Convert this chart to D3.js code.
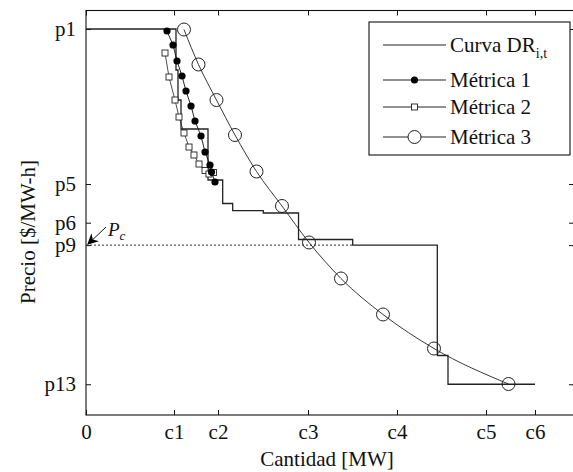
<!DOCTYPE html>
<html><head><meta charset="utf-8">
<script src="https://cdn.jsdelivr.net/npm/d3@7"></script>
<style>
html,body{margin:0;padding:0;background:#fff;}
svg{display:block;}
text{font-family:"Liberation Serif","Times New Roman",serif;fill:#111;}
</style></head><body>
<svg id="chart" width="573" height="472"></svg>
<script>
// ---- data ----
const xTickValues = [0, 18.03, 27.05, 45.49, 63.73, 81.97, 92.01];
const xTickLabels = ["0", "c1", "c2", "c3", "c4", "c5", "c6"];
const yTickValues = [95.43, 57.11, 47.54, 42.0, 7.6];
const yTickLabels = ["p1", "p5", "p6", "p9", "p13"];

// Curva DR (step, value holds until next quantity)
const drQty   = [0, 18.44, 18.85, 19.47, 25.0, 28.01, 30.06, 36.33, 43.55, 54.65, 71.99, 74.18, 92.01];
const drPrice = [95.43, 85.29, 77.87, 70.70, 58.10, 52.29, 50.51, 49.94, 43.39, 42.0, 14.71, 7.6, 7.6];

const m1Qty   = [16.60, 17.83, 18.65, 19.67, 20.49, 21.52, 22.34, 23.57, 24.39, 25.41, 25.72, 26.43];
const m1Price = [94.93, 91.47, 87.52, 83.81, 80.10, 76.39, 72.68, 68.97, 65.02, 61.80, 60.07, 57.60];

const m2Qty   = [16.19, 17.01, 18.24, 19.06, 20.08, 21.11, 22.13, 23.16, 24.39, 25.20, 26.13];
const m2Price = [89.49, 83.56, 77.87, 73.67, 69.72, 66.25, 64.28, 62.05, 60.44, 59.58, 59.95];

const m3Qty   = [20.08, 23.05, 26.74, 30.53, 34.94, 40.16, 45.70, 52.25, 60.86, 71.31, 86.58];
const m3Price = [95.30, 86.65, 77.87, 69.22, 60.20, 51.67, 42.65, 33.75, 24.85, 16.44, 7.66];

const pcPrice = 42.0;      // clearing price (p9)
const pcQtyEnd = 54.65;    // dashed line end

const legendLabels = ["Curva DR", "Métrica 1", "Métrica 2", "Métrica 3"];

// ---- layout ----
const svg = d3.select("#chart");
const L = 86, R = 574, T = 10.5, B = 415;
const x = d3.scaleLinear().domain([0, 100]).range([L, R]);
const y = d3.scaleLinear().domain([0, 100]).range([B, T]);

// frame
svg.append("rect").attr("x", L).attr("y", T).attr("width", R - L).attr("height", B - T)
  .attr("fill", "none").attr("stroke", "#111").attr("stroke-width", 1.1);

// axes (inward ticks)
const fmtX = (d, i) => xTickLabels[i];
const fmtY = (d, i) => yTickLabels[i];
const gx = svg.append("g").attr("transform", `translate(0,${B})`)
  .call(d3.axisBottom(x).tickValues(xTickValues).tickFormat(fmtX).tickSizeInner(-5).tickSizeOuter(0).tickPadding(9));
const gxt = svg.append("g").attr("transform", `translate(0,${T})`)
  .call(d3.axisTop(x).tickValues(xTickValues).tickFormat("").tickSizeInner(-5).tickSizeOuter(0));
const gy = svg.append("g").attr("transform", `translate(${L},0)`)
  .call(d3.axisLeft(y).tickValues(yTickValues).tickFormat(fmtY).tickSizeInner(-5).tickSizeOuter(0).tickPadding(10));
const gyr = svg.append("g").attr("transform", `translate(${R},0)`)
  .call(d3.axisRight(y).tickValues(yTickValues).tickFormat("").tickSizeInner(-5).tickSizeOuter(0));
[gx, gxt, gy, gyr].forEach(g => {
  g.select(".domain").remove();
  g.selectAll(".tick line").attr("stroke", "#111");
  g.selectAll("text").attr("font-family", "Liberation Serif").attr("font-size", 21).attr("fill", "#111");
});

// axis titles
svg.append("text").attr("x", 327).attr("y", 466).attr("text-anchor", "middle")
  .attr("font-size", 21).text("Cantidad [MW]");
svg.append("text").attr("transform", "translate(35,232) rotate(-90)").attr("text-anchor", "middle")
  .attr("font-size", 21).text("Precio [$/MW-h]");

// dashed clearing price line
svg.append("line").attr("x1", x(0)).attr("x2", x(pcQtyEnd)).attr("y1", y(pcPrice)).attr("y2", y(pcPrice))
  .attr("stroke", "#333").attr("stroke-width", 1).attr("stroke-dasharray", "2,2");

// DR step curve
const dr = drQty.map((q, i) => [q, drPrice[i]]);
svg.append("path").datum(dr)
  .attr("d", d3.line().x(d => x(d[0])).y(d => y(d[1])).curve(d3.curveStepAfter))
  .attr("fill", "none").attr("stroke", "#222").attr("stroke-width", 1.3);

// Metric 3
const m3 = m3Qty.map((q, i) => [q, m3Price[i]]);
svg.append("path").datum(m3)
  .attr("d", d3.line().x(d => x(d[0])).y(d => y(d[1])).curve(d3.curveMonotoneX))
  .attr("fill", "none").attr("stroke", "#222").attr("stroke-width", 0.9);
svg.append("g").selectAll("circle").data(m3).join("circle")
  .attr("cx", d => x(d[0])).attr("cy", d => y(d[1])).attr("r", 6.5)
  .attr("fill", "none").attr("stroke", "#222").attr("stroke-width", 1);

// Metric 2
const m2 = m2Qty.map((q, i) => [q, m2Price[i]]);
svg.append("path").datum(m2)
  .attr("d", d3.line().x(d => x(d[0])).y(d => y(d[1])))
  .attr("fill", "none").attr("stroke", "#222").attr("stroke-width", 0.8);
svg.append("g").selectAll("rect").data(m2).join("rect")
  .attr("x", d => x(d[0]) - 3).attr("y", d => y(d[1]) - 3).attr("width", 6).attr("height", 6)
  .attr("fill", "#fff").attr("stroke", "#222").attr("stroke-width", 0.9);

// Metric 1
const m1 = m1Qty.map((q, i) => [q, m1Price[i]]);
svg.append("path").datum(m1)
  .attr("d", d3.line().x(d => x(d[0])).y(d => y(d[1])))
  .attr("fill", "none").attr("stroke", "#111").attr("stroke-width", 0.9);
svg.append("g").selectAll("circle").data(m1).join("circle")
  .attr("cx", d => x(d[0])).attr("cy", d => y(d[1])).attr("r", 3.6)
  .attr("fill", "#000");

// P_c arrow
const defs = svg.append("defs");
defs.append("marker").attr("id", "ah").attr("viewBox", "0 0 10 10").attr("refX", 9).attr("refY", 5)
  .attr("markerWidth", 15).attr("markerHeight", 11).attr("orient", "auto").attr("markerUnits", "userSpaceOnUse")
  .append("path").attr("d", "M0,0 L10,5 L0,10 L3,5 Z").attr("fill", "#000");
svg.append("line").attr("x1", 106).attr("y1", 227).attr("x2", x(0) + 2).attr("y2", y(pcPrice) - 1)
  .attr("stroke", "#111").attr("stroke-width", 1).attr("marker-end", "url(#ah)");
const pc = svg.append("text").attr("x", 108).attr("y", 236).attr("font-size", 19).attr("font-style", "italic");
pc.append("tspan").text("P");
pc.append("tspan").attr("font-size", 13).attr("dy", 4).text("c");

// legend
const lg = svg.append("g");
lg.append("rect").attr("x", 369).attr("y", 22).attr("width", 201).attr("height", 133)
  .attr("fill", "#fff").attr("stroke", "#111").attr("stroke-width", 1.1);
const rows = [45, 80, 107, 137];
rows.forEach((ry, i) => {
  lg.append("line").attr("x1", 383).attr("x2", 446).attr("y1", ry).attr("y2", ry)
    .attr("stroke", "#222").attr("stroke-width", 1);
  const t = lg.append("text").attr("x", 450).attr("y", ry + 7).attr("font-size", 21);
  t.append("tspan").text(legendLabels[i]);
  if (i === 0) t.append("tspan").attr("font-size", 14).attr("dy", 6).text("i,t");
});
lg.append("circle").attr("cx", 414.5).attr("cy", rows[1]).attr("r", 3.6).attr("fill", "#000");
lg.append("rect").attr("x", 411.5).attr("y", rows[2] - 3).attr("width", 6).attr("height", 6)
  .attr("fill", "#fff").attr("stroke", "#222").attr("stroke-width", 0.9);
lg.append("circle").attr("cx", 414.5).attr("cy", rows[3]).attr("r", 6.5)
  .attr("fill", "#fff").attr("stroke", "#222").attr("stroke-width", 1);
</script>
</body></html>
